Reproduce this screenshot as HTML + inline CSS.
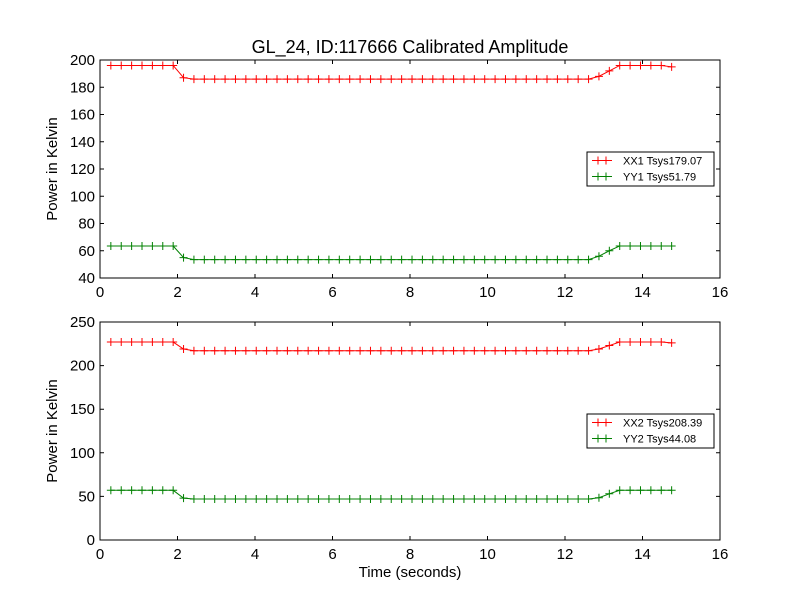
<!DOCTYPE html>
<html><head><meta charset="utf-8"><style>
body{margin:0;background:#fff}
svg{display:block;font-family:"Liberation Sans","DejaVu Sans",sans-serif}
</style></head><body>
<svg id="chart" width="800" height="600" viewBox="0 0 800 600">
<rect width="800" height="600" fill="#fff"/>
<text x="410" y="53" font-size="18" text-anchor="middle">GL_24, ID:117666 Calibrated Amplitude</text>
<text x="410" y="577" font-size="15" text-anchor="middle">Time (seconds)</text>
</svg>
<script>
const N = 55, t0 = 0.28, dt = 0.268;
const times = []; for (let i = 0; i < N; i++) times.push(t0 + i * dt);
function series(hi, mid, lo, rise1, rise2, last) {
  const a = [];
  for (let i = 0; i < N; i++) {
    if (i < 7) a.push(hi);
    else if (i === 7) a.push(mid);
    else if (i < 47) a.push(lo);
    else if (i === 47) a.push(rise1);
    else if (i === 48) a.push(rise2);
    else a.push(hi);
  }
  a[N - 1] = last;
  return a;
}
const xx1 = series(196, 187, 186, 188, 192, 195);
const yy1 = series(63.5, 55, 53.5, 56, 60, 63.5);
const xx2 = series(227, 219, 217, 219, 223, 226);
const yy2 = series(57, 48, 47, 48.5, 53, 57);
const xTicks = [0, 2, 4, 6, 8, 10, 12, 14, 16];
const yTicksTop = [40, 60, 80, 100, 120, 140, 160, 180, 200];
const yTicksBot = [0, 50, 100, 150, 200, 250];
const legendTop = ["XX1 Tsys179.07", "YY1 Tsys51.79"];
const legendBot = ["XX2 Tsys208.39", "YY2 Tsys44.08"];

const svg = document.getElementById('chart');
const NS = 'http://www.w3.org/2000/svg';
function mk(tag, attrs, parent) {
  const e = document.createElementNS(NS, tag);
  for (const k in attrs) e.setAttribute(k, attrs[k]);
  (parent || svg).appendChild(e);
  return e;
}
function panel(name, top, bottom, ymin, ymax, yTicks, s1, s2, leg, legY) {
  const L = 100, R = 720;
  const g = mk('g', {});
  
  
  const xs = v => L + (v - 0) / 16 * (R - L);
  const ys = v => bottom - (v - ymin) / (ymax - ymin) * (bottom - top);
  [[s1, '#ff0000', 'red-series'], [s2, '#008000', 'green-series']].forEach(([d, c, nm]) => {
    const pts = d.map((v, i) => xs(times[i]) + ',' + ys(v)).join(' ');
    const pl = mk('polyline', {points: pts, fill: 'none', stroke: c, 'stroke-width': 1}, g);
    
    
    d.forEach((v, i) => {
      const x = xs(times[i]), y = ys(v);
      const p = mk('path', {d: `M${x-4},${y}H${x+4}M${x},${y-4}V${y+4}`, stroke: c, 'stroke-width': 1}, g);
      
      
    });
  });
  const fr = mk('rect', {x: L, y: top, width: R - L, height: bottom - top, fill: 'none', stroke: '#000', 'stroke-width': 1}, g);
  
  
  xTicks.forEach(v => {
    const x = xs(v);
    mk('path', {d: `M${x},${bottom}v-4M${x},${top}v4`, stroke: '#000'}, g);
    const t = mk('text', {x: x, y: bottom + 19, 'font-size': 15, 'text-anchor': 'middle'}, g);
    
    
    t.textContent = v;
  });
  yTicks.forEach(v => {
    const y = ys(v);
    mk('path', {d: `M${L},${y}h4M${R},${y}h-4`, stroke: '#000'}, g);
    const t = mk('text', {x: L - 5, y: y + 5, 'font-size': 15, 'text-anchor': 'end'}, g);
    
    
    t.textContent = v;
  });
  const yl = mk('text', {x: 57, y: (top + bottom) / 2, 'font-size': 15, 'text-anchor': 'middle', transform: `rotate(-90 57 ${(top + bottom) / 2})`}, g);
  
  
  yl.textContent = 'Power in Kelvin';
  const lg = mk('g', {}, g);
  
  
  mk('rect', {x: 587, y: legY, width: 127, height: 34, fill: '#fff', stroke: '#000'}, lg);
  ['#ff0000', '#008000'].forEach((c, i) => {
    const y = legY + 8.5 + i * 16;
    mk('path', {d: `M592,${y}H612M598,${y-4}v8M606,${y-4}v8`, stroke: c}, lg);
    const t = mk('text', {x: 623, y: y + 4, 'font-size': 11}, lg);
    
    
    t.textContent = leg[i];
  });
}
panel('top-panel', 60, 278, 40, 200, yTicksTop, xx1, yy1, legendTop, 152);
panel('bottom-panel', 322, 540, 0, 250, yTicksBot, xx2, yy2, legendBot, 414);
</script>
</body></html>
